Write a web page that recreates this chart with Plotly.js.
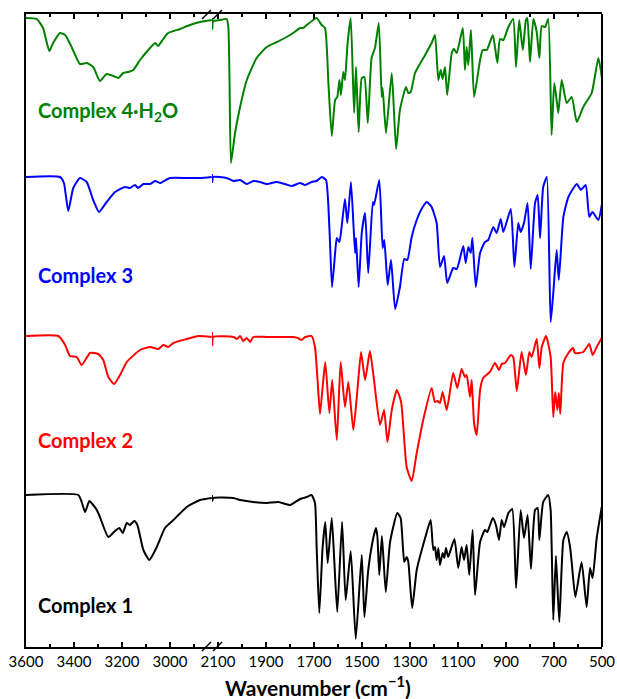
<!DOCTYPE html>
<html>
<head>
<meta charset="utf-8">
<script src="https://cdn.plot.ly/plotly-3.0.1.min.js"></script>
<style>html,body{margin:0;padding:0;background:#fff;}#chart{width:617px;height:699px;}</style>
</head>
<body>
<div id="chart"></div>
<script>
// ---------- DATA (wavenumber in cm-1, transmittance with vertical offsets, a.u.) ----------
const seriesNames = ["Complex 4·H<sub>2</sub>O", "Complex 3", "Complex 2", "Complex 1"];
const seriesColors = ["#008000", "#0000FF", "#FF0000", "#000000"];
const labelY = [536, 372, 207, 42];

const leftTickVals = [3600, 3400, 3200, 3000];
const leftMinorVals = [3500, 3300, 3100, 2900];
const rightTickVals = [2100, 1900, 1700, 1500, 1300, 1100, 900, 700, 500];
const rightMinorVals = [2000, 1800, 1600, 1400, 1200, 1000, 800, 600];

// Complex 4·H2O (green)
const wn4L = [3600,3555,3529,3503,3487,3458,3437,3410,3375,3347,3320,3292,3264,3236,3215,3195,3174,3153,3125,3083,3062,3050,3028,3008,2958,2917,2875,2826];
const t4L  = [629,628,619,596,604,614,612,600,583,584,580,566,573,571,569,574,575,577,587,599,604,601,608,614,618,622,625,627];
const wn4R = [2125,2124,2120,2092,2064,2057,2052,2046,2029,2008,1980,1939,1897,1855,1814,1787,1758,1745,1730,1703,1689,1668,1654,1640,1626,1612,1603,1594,1588,1578,1571,1560,1547,1533,1525,1514,1501,1490,1476,1460,1446,1430,1418,1414,1400,1376,1358,1342,1317,1307,1297,1279,1237,1210,1196,1182,1172,1164,1154,1145,1126,1117,1105,1080,1071,1064,1057,1046,1033,1008,997,980,955,936,925,911,890,870,858,845,830,817,811,800,786,772,761,751,737,724,710,699,689,682,668,647,626,605,578,543,515,501];
const t4R  = [629,618,626,627,628,620,567,484,514,540,567,589,600,605,610,614,619,619,622,627,629,622,619,564,511,547,550,567,552,575,567,604,629,534,580,515,569,570,524,589,599,624,550,559,514,574,498,537,560,554,555,574,592,604,612,567,577,568,580,552,594,598,594,619,577,600,582,617,550,587,597,597,612,584,608,607,620,628,580,627,597,627,629,585,628,615,589,621,620,628,512,564,547,534,567,544,550,525,540,554,589,570];

// Complex 3 (blue)
const wn3L = [3600,3458,3442,3424,3403,3375,3347,3320,3296,3264,3229,3188,3167,3146,3133,3111,3083,3062,3042,3000,2930,2875,2826];
const t3L  = [470,470,464,436,459,469,465,447,435,445,455,460,459,462,459,463,463,466,464,469,469,469,470];
const wn3R = [2125,2124,2120,2064,2036,2008,1980,1953,1925,1897,1855,1821,1793,1758,1737,1710,1689,1668,1650,1636,1625,1612,1605,1594,1585,1571,1561,1546,1529,1525,1514,1501,1487,1474,1455,1450,1428,1414,1407,1393,1379,1362,1342,1324,1311,1293,1272,1247,1230,1210,1189,1175,1158,1145,1120,1105,1078,1068,1057,1047,1040,1026,1008,988,974,953,939,922,911,880,865,849,839,825,810,797,779,768,758,745,730,714,703,689,680,661,640,605,588,568,553,540,515,501];
const t3R  = [473,465,470,469,466,467,463,466,465,463,465,463,461,464,462,465,466,470,467,420,360,394,409,405,420,448,424,465,394,409,360,414,434,374,445,442,467,399,407,362,387,338,360,388,387,410,427,440,445,440,424,380,391,364,379,378,401,384,400,394,409,360,394,405,407,420,414,428,415,438,380,424,415,424,444,378,444,452,409,460,470,325,354,397,367,430,450,463,457,462,430,435,427,442];

// Complex 2 (red)
const wn2L = [3600,3465,3437,3417,3389,3368,3333,3299,3278,3257,3233,3208,3180,3125,3083,3049,3028,3007,2986,2930,2882,2826];
const t2L  = [311,311,302,291,290,282,294,293,287,270,263,272,285,297,300,298,302,300,304,308,311,310];
const wn2R = [2125,2124,2120,2036,2020,2008,1995,1980,1966,1953,1897,1786,1767,1751,1737,1710,1696,1686,1675,1664,1653,1636,1624,1605,1589,1571,1557,1536,1518,1504,1487,1467,1450,1425,1408,1394,1376,1355,1337,1314,1293,1272,1245,1210,1196,1185,1175,1164,1147,1120,1103,1085,1071,1064,1050,1043,1033,1022,1008,995,967,946,929,918,904,880,870,855,835,817,803,793,772,761,751,733,714,703,695,686,680,674,661,640,620,613,578,553,539,522,501];
const t2R  = [315,302,310,310,308,311,306,309,305,310,310,310,309,307,310,311,300,270,233,260,285,234,267,207,285,240,265,217,260,295,267,296,267,222,237,205,237,257,245,180,166,194,227,259,245,246,244,255,237,274,259,278,270,272,250,267,224,212,257,269,275,284,277,283,284,292,290,256,295,272,295,290,308,279,300,311,290,230,255,237,254,233,284,294,299,294,295,303,292,300,309];

// Complex 1 (black)
const wn1L = [3600,3382,3368,3354,3336,3320,3305,3292,3257,3229,3211,3197,3180,3167,3149,3136,3111,3086,3055,3021,2986,2930,2875,2826];
const t1L  = [152,152,145,135,146,142,137,130,110,116,119,114,124,122,126,122,97,87,100,119,127,140,147,149];
const wn1R = [2125,2124,2120,2036,2008,1980,1953,1897,1849,1800,1758,1730,1710,1696,1689,1678,1664,1653,1643,1626,1615,1603,1583,1568,1547,1526,1501,1490,1474,1453,1442,1436,1428,1417,1401,1383,1353,1339,1324,1314,1307,1291,1272,1237,1214,1203,1196,1189,1182,1175,1164,1157,1150,1141,1115,1099,1085,1075,1064,1053,1039,1029,1008,988,978,955,942,929,918,908,890,874,858,839,825,810,796,779,768,761,745,724,714,703,692,678,661,647,633,626,611,585,564,550,539,522,501];
const t1R  = [152,146,149,149,147,146,145,144,145,142,148,150,152,144,100,34,100,125,84,129,84,35,125,47,96,8,92,30,77,109,119,111,72,111,55,105,134,129,85,90,85,39,77,109,127,97,100,87,99,82,94,89,99,90,108,79,100,87,102,72,117,52,105,117,115,129,122,107,127,120,134,138,59,137,109,132,78,137,139,107,145,152,137,27,91,25,107,115,100,84,50,85,40,79,69,109,140];

const leftX = [wn4L, wn3L, wn2L, wn1L];
const leftY = [t4L, t3L, t2L, t1L];
const rightX = [wn4R, wn3R, wn2R, wn1R];
const rightY = [t4R, t3R, t2R, t1R];

// ---------- LAYOUT GEOMETRY ----------
const W = 617, H = 699;
const M = {l: 26, r: 15, t: 14, b: 52};
const pw = W - M.l - M.r, ph = H - M.t - M.b;
const splitFrac = (212 - M.l) / pw;
const px = v => (v - M.l) / pw;
const py = v => (H - M.b - v) / ph;

const traces = [];
for (let i = 0; i < 4; i++) {
  const ln = {color: seriesColors[i], width: 2, shape: 'spline', smoothing: 0.5};
  traces.push({x: leftX[i], y: leftY[i], xaxis: 'x', yaxis: 'y', mode: 'lines', line: ln, hoverinfo: 'skip', showlegend: false});
  traces.push({x: rightX[i], y: rightY[i], xaxis: 'x2', yaxis: 'y', mode: 'lines', line: ln, hoverinfo: 'skip', showlegend: false});
}

const tickFont = {family: 'Lato, "Open Sans", sans-serif', size: 15, color: '#000'};
const axCommon = {
  showline: true, linewidth: 2, linecolor: '#000', mirror: 'ticks',
  ticks: 'inside', ticklen: 5, tickwidth: 1.5, tickcolor: '#000',
  showgrid: false, zeroline: false, tickfont: tickFont, anchor: 'y', fixedrange: true
};

const annotations = seriesNames.map((n, i) => ({
  xref: 'x', yref: 'y', x: 3558, y: labelY[i], text: '<b>' + n + '</b>',
  showarrow: false, xanchor: 'left', yanchor: 'middle',
  font: {family: 'Lato, "Open Sans", sans-serif', size: 20, color: seriesColors[i]}
}));
annotations.push({
  xref: 'paper', yref: 'paper', x: px(318), y: py(686), xanchor: 'center', yanchor: 'middle',
  text: '<b>Wavenumber (cm<sup>\u22121</sup>)</b>', showarrow: false,
  font: {family: 'Lato, "Open Sans", sans-serif', size: 21, color: '#000'}
});

const shapes = [
  {type: 'line', xref: 'paper', yref: 'paper', x0: 1, x1: 1, y0: 0, y1: 1, line: {color: '#000', width: 2}},
];
[[651, 642], [19, 10]].forEach(([yb, yt]) => {
  shapes.push({type: 'line', xref: 'paper', yref: 'paper', x0: px(202), y0: py(yb), x1: px(211), y1: py(yt), line: {color: '#000', width: 1.5}});
  shapes.push({type: 'line', xref: 'paper', yref: 'paper', x0: px(213), y0: py(yb), x1: px(222), y1: py(yt), line: {color: '#000', width: 1.5}});
});

const layout = {
  width: W, height: H, margin: M,
  paper_bgcolor: '#fff', plot_bgcolor: '#fff',
  showlegend: false,
  xaxis: Object.assign({}, axCommon, {
    domain: [0, splitFrac], range: [3600, 2825],
    tickmode: 'array', tickvals: leftTickVals,
    minor: {tickmode: 'array', tickvals: leftMinorVals, ticks: 'inside', ticklen: 3, tickwidth: 1.5, tickcolor: '#000', showgrid: false}
  }),
  xaxis2: Object.assign({}, axCommon, {
    domain: [splitFrac, 1], range: [2125, 500],
    tickmode: 'array', tickvals: rightTickVals,
    minor: {tickmode: 'array', tickvals: rightMinorVals, ticks: 'inside', ticklen: 3, tickwidth: 1.5, tickcolor: '#000', showgrid: false}
  }),
  yaxis: {
    domain: [0, 1], range: [0, 633], anchor: 'x',
    showline: true, linewidth: 2, linecolor: '#000',
    showticklabels: false, ticks: '', showgrid: false, zeroline: false, fixedrange: true
  },
  annotations: annotations,
  shapes: shapes
};

Plotly.newPlot('chart', traces, layout, {displayModeBar: false, staticPlot: true});
</script>
</body>
</html>
